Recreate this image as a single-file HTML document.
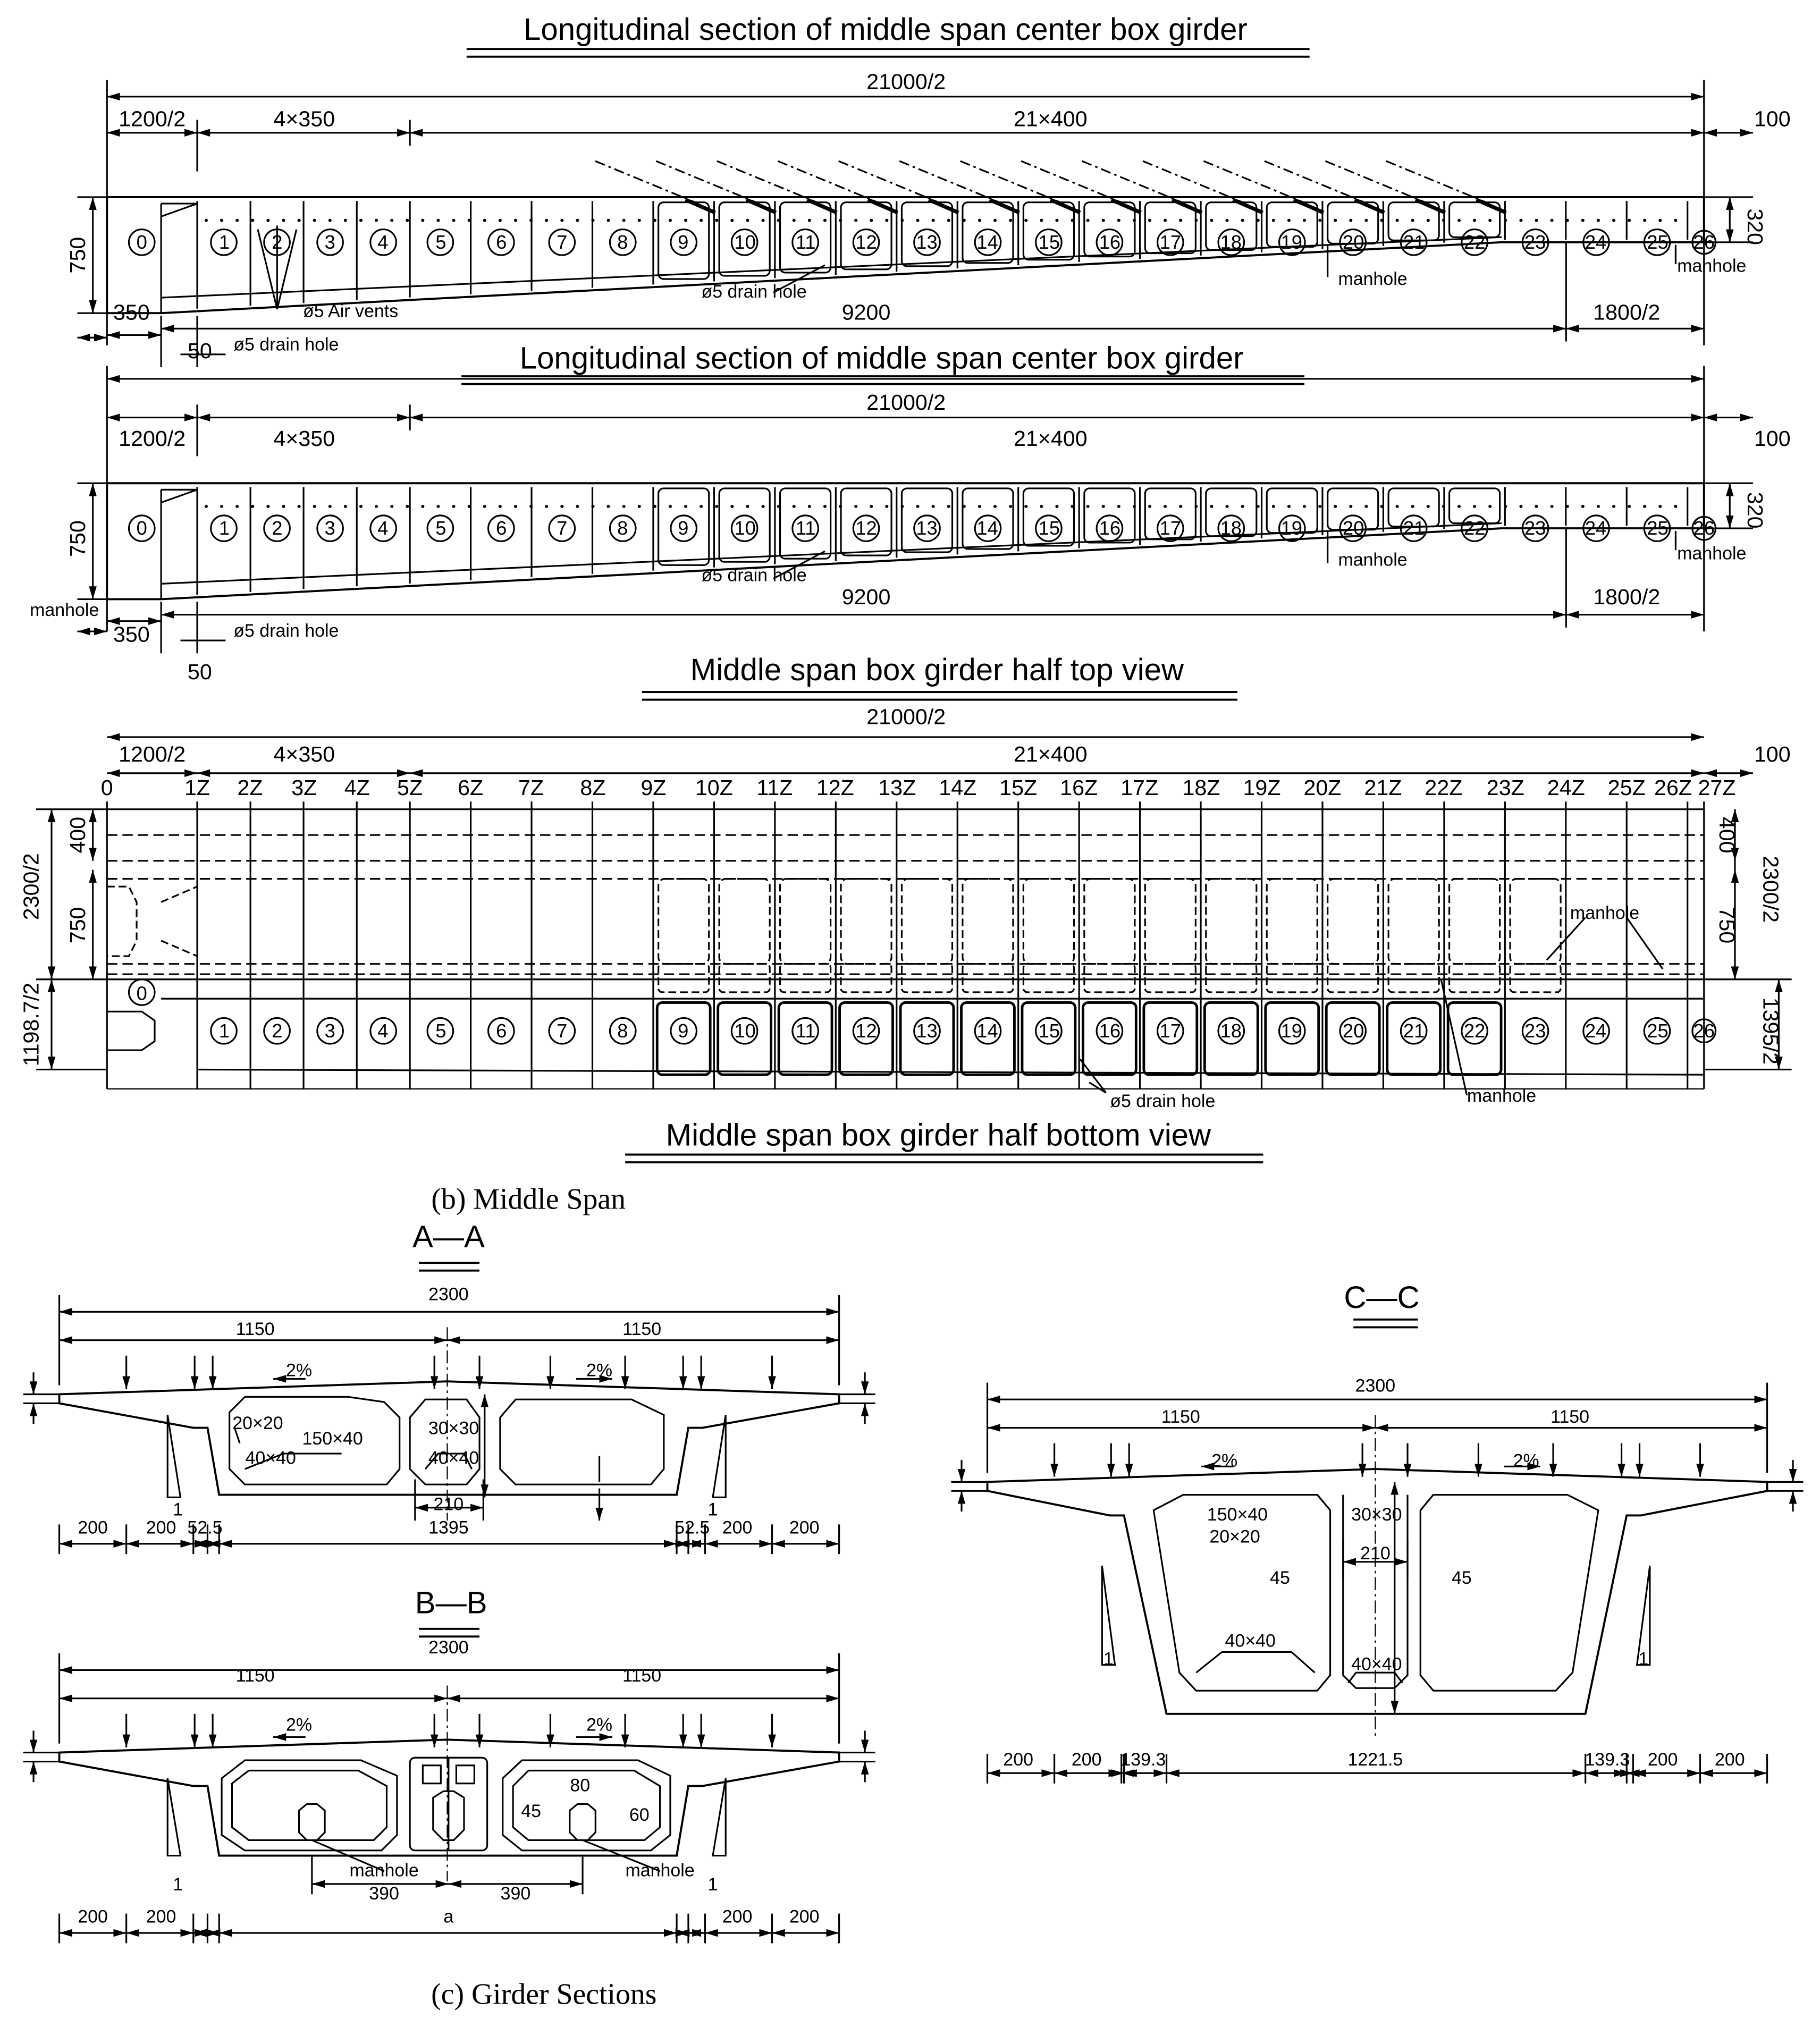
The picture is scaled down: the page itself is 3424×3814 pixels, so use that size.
<!DOCTYPE html>
<html><head><meta charset="utf-8">
<style>
html,body{margin:0;padding:0;background:#fff;}
svg{display:block;}
text{font-family:"Liberation Sans",sans-serif;fill:#000;}
.t{font-size:24px;}
.d{font-size:17px;}
.s{font-size:14px;}
.c{font-size:15px;}
.cap{font-family:"Liberation Serif",serif;font-size:23px;}
</style></head><body>
<svg id="S" width="3424" height="3814" viewBox="0 0 1412 1573" preserveAspectRatio="none" xmlns="http://www.w3.org/2000/svg">
<defs>
<marker id="a" viewBox="0 0 10 6" refX="10" refY="3" markerWidth="10" markerHeight="6" orient="auto-start-reverse" markerUnits="userSpaceOnUse"><path d="M0,0L10,3L0,6z"/></marker>
</defs>
<g id="G" stroke="#000" stroke-width="1.3" fill="none"></g>
<g text-anchor="middle">
<!-- Panel 1 -->
<text class="t" x="687" y="31">Longitudinal section of middle span center box girder</text>
<text class="d" x="703" y="69">21000/2</text>
<text class="d" x="118" y="98">1200/2</text>
<text class="d" x="236" y="98">4×350</text>
<text class="d" x="815" y="98">21×400</text>
<text class="d" x="1375" y="98">100</text>
<text class="d" x="66" y="198" transform="rotate(-90 66 198)">750</text>
<text class="d" x="1356" y="176" transform="rotate(90 1356 176)">320</text>
<text class="d" x="672" y="248">9200</text>
<text class="d" x="1262" y="248">1800/2</text>
<text class="d" x="102" y="248">350</text>
<text class="d" x="155" y="278">50</text>
<text class="s" x="222" y="272">ø5 drain hole</text>
<text class="s" x="272" y="246">ø5 Air vents</text>
<text class="s" x="585" y="231">ø5 drain hole</text>
<text class="s" x="1065" y="221">manhole</text>
<text class="s" x="1328" y="211">manhole</text>
<g class="c">
<text x="110" y="193">0</text><text x="174" y="193">1</text><text x="215" y="193">2</text><text x="256" y="193">3</text><text x="297" y="193">4</text><text x="342" y="193">5</text><text x="389" y="193">6</text><text x="436" y="193">7</text><text x="483" y="193">8</text><text x="530" y="193">9</text><text x="578" y="193">10</text><text x="625" y="193">11</text><text x="672" y="193">12</text><text x="719" y="193">13</text><text x="766" y="193">14</text><text x="814" y="193">15</text><text x="861" y="193">16</text><text x="908" y="193">17</text><text x="955" y="193">18</text><text x="1002" y="193">19</text><text x="1050" y="193">20</text><text x="1097" y="193">21</text><text x="1144" y="193">22</text><text x="1191" y="193">23</text><text x="1238" y="193">24</text><text x="1286" y="193">25</text><text x="1322" y="193">26</text>
</g>
<!-- Panel 2 -->
<text class="t" x="684" y="286">Longitudinal section of middle span center box girder</text>
<text class="d" x="703" y="318">21000/2</text>
<text class="d" x="118" y="346">1200/2</text>
<text class="d" x="236" y="346">4×350</text>
<text class="d" x="815" y="346">21×400</text>
<text class="d" x="1375" y="346">100</text>
<text class="d" x="66" y="418" transform="rotate(-90 66 418)">750</text>
<text class="d" x="1356" y="396" transform="rotate(90 1356 396)">320</text>
<text class="d" x="672" y="469">9200</text>
<text class="d" x="1262" y="469">1800/2</text>
<text class="d" x="102" y="498">350</text>
<text class="d" x="155" y="527">50</text>
<text class="s" x="50" y="478">manhole</text>
<text class="s" x="222" y="494">ø5 drain hole</text>
<text class="s" x="585" y="451">ø5 drain hole</text>
<text class="s" x="1065" y="439">manhole</text>
<text class="s" x="1328" y="434">manhole</text>
<g class="c">
<text x="110" y="415">0</text><text x="174" y="415">1</text><text x="215" y="415">2</text><text x="256" y="415">3</text><text x="297" y="415">4</text><text x="342" y="415">5</text><text x="389" y="415">6</text><text x="436" y="415">7</text><text x="483" y="415">8</text><text x="530" y="415">9</text><text x="578" y="415">10</text><text x="625" y="415">11</text><text x="672" y="415">12</text><text x="719" y="415">13</text><text x="766" y="415">14</text><text x="814" y="415">15</text><text x="861" y="415">16</text><text x="908" y="415">17</text><text x="955" y="415">18</text><text x="1002" y="415">19</text><text x="1050" y="415">20</text><text x="1097" y="415">21</text><text x="1144" y="415">22</text><text x="1191" y="415">23</text><text x="1238" y="415">24</text><text x="1286" y="415">25</text><text x="1322" y="415">26</text>
</g>
<!-- Panel 3 -->
<text class="t" x="727" y="528">Middle span box girder half top view</text>
<text class="d" x="703" y="562">21000/2</text>
<text class="d" x="118" y="591">1200/2</text>
<text class="d" x="236" y="591">4×350</text>
<text class="d" x="815" y="591">21×400</text>
<text class="d" x="1375" y="591">100</text>
<g class="d">
<text x="83" y="617">0</text><text x="153" y="617">1Z</text><text x="194" y="617">2Z</text><text x="236" y="617">3Z</text><text x="277" y="617">4Z</text><text x="318" y="617">5Z</text><text x="365" y="617">6Z</text><text x="412" y="617">7Z</text><text x="460" y="617">8Z</text><text x="507" y="617">9Z</text><text x="554" y="617">10Z</text><text x="601" y="617">11Z</text><text x="648" y="617">12Z</text><text x="696" y="617">13Z</text><text x="743" y="617">14Z</text><text x="790" y="617">15Z</text><text x="837" y="617">16Z</text><text x="884" y="617">17Z</text><text x="932" y="617">18Z</text><text x="979" y="617">19Z</text><text x="1026" y="617">20Z</text><text x="1073" y="617">21Z</text><text x="1120" y="617">22Z</text><text x="1168" y="617">23Z</text><text x="1215" y="617">24Z</text><text x="1262" y="617">25Z</text><text x="1298" y="617">26Z</text><text x="1332" y="617">27Z</text>
</g>
<text class="d" x="66" y="648" transform="rotate(-90 66 648)">400</text>
<text class="d" x="66" y="718" transform="rotate(-90 66 718)">750</text>
<text class="d" x="30" y="688" transform="rotate(-90 30 688)">2300/2</text>
<text class="d" x="30" y="795" transform="rotate(-90 30 795)">1198.7/2</text>
<text class="d" x="1334" y="648" transform="rotate(90 1334 648)">400</text>
<text class="d" x="1334" y="718" transform="rotate(90 1334 718)">750</text>
<text class="d" x="1368" y="690" transform="rotate(90 1368 690)">2300/2</text>
<text class="d" x="1368" y="800" transform="rotate(90 1368 800)">1395/2</text>
<text class="s" x="1245" y="713">manhole</text>
<text class="s" x="902" y="859">ø5 drain hole</text>
<text class="s" x="1165" y="855">manhole</text>
<g class="c">
<text x="110" y="776">0</text><text x="174" y="805">1</text><text x="215" y="805">2</text><text x="256" y="805">3</text><text x="297" y="805">4</text><text x="342" y="805">5</text><text x="389" y="805">6</text><text x="436" y="805">7</text><text x="483" y="805">8</text><text x="530" y="805">9</text><text x="578" y="805">10</text><text x="625" y="805">11</text><text x="672" y="805">12</text><text x="719" y="805">13</text><text x="766" y="805">14</text><text x="814" y="805">15</text><text x="861" y="805">16</text><text x="908" y="805">17</text><text x="955" y="805">18</text><text x="1002" y="805">19</text><text x="1050" y="805">20</text><text x="1097" y="805">21</text><text x="1144" y="805">22</text><text x="1191" y="805">23</text><text x="1238" y="805">24</text><text x="1286" y="805">25</text><text x="1322" y="805">26</text>
</g>
<text class="t" x="728" y="889">Middle span box girder half bottom view</text>
<text class="cap" x="410" y="938">(b) Middle Span</text>
<text class="cap" x="422" y="1555">(c) Girder Sections</text>
<!-- Sections -->
<text class="t" x="348" y="968">A—A</text>
<text class="t" x="350" y="1252">B—B</text>
<text class="t" x="1072" y="1015">C—C</text>
<g class="s">
<text x="348" y="1009">2300</text><text x="198" y="1036">1150</text><text x="498" y="1036">1150</text>
<text x="232" y="1068">2%</text><text x="465" y="1068">2%</text>
<text x="200" y="1109">20×20</text><text x="258" y="1121">150×40</text><text x="210" y="1136">40×40</text>
<text x="352" y="1113">30×30</text><text x="352" y="1136">40×40</text><text x="348" y="1172">210</text>
<text x="72" y="1190">200</text><text x="125" y="1190">200</text><text x="159" y="1190">52.5</text><text x="348" y="1190">1395</text><text x="537" y="1190">52.5</text><text x="572" y="1190">200</text><text x="624" y="1190">200</text>
<text x="348" y="1283">2300</text><text x="198" y="1305">1150</text><text x="498" y="1305">1150</text>
<text x="232" y="1343">2%</text><text x="465" y="1343">2%</text>
<text x="298" y="1456">manhole</text><text x="512" y="1456">manhole</text>
<text x="298" y="1474">390</text><text x="400" y="1474">390</text><text x="450" y="1390">80</text><text x="412" y="1410">45</text><text x="496" y="1413">60</text>
<text x="348" y="1492">a</text>
<text x="72" y="1492">200</text><text x="125" y="1492">200</text><text x="572" y="1492">200</text><text x="624" y="1492">200</text>
<text x="1067" y="1080">2300</text><text x="916" y="1104">1150</text><text x="1218" y="1104">1150</text>
<text x="950" y="1138">2%</text><text x="1184" y="1138">2%</text>
<text x="960" y="1180">150×40</text><text x="958" y="1197">20×20</text>
<text x="993" y="1229">45</text><text x="1134" y="1229">45</text><text x="1067" y="1210">210</text>
<text x="970" y="1278">40×40</text><text x="1068" y="1296">40×40</text><text x="1068" y="1180">30×30</text>
<text x="790" y="1370">200</text><text x="843" y="1370">200</text><text x="887" y="1370">139.3</text><text x="1067" y="1370">1221.5</text><text x="1247" y="1370">139.3</text><text x="1290" y="1370">200</text><text x="1342" y="1370">200</text>
<text x="860" y="1292">1</text><text x="1275" y="1292">1</text><text x="138" y="1176">1</text><text x="553" y="1176">1</text><text x="138" y="1467">1</text><text x="553" y="1467">1</text>
</g>
</g>
</svg>
<script>
(function(){
var G=document.getElementById('G'),NS='http://www.w3.org/2000/svg';
function el(t,a){var e=document.createElementNS(NS,t);for(var k in a)e.setAttribute(k,a[k]);G.appendChild(e);return e;}
function L(x1,y1,x2,y2,o){var a={x1:x1,y1:y1,x2:x2,y2:y2};if(o)for(var k in o)a[k]=o[k];return el('line',a);}
function P(d,o){var a={d:d};if(o)for(var k in o)a[k]=o[k];return el('path',a);}
function C(x,y,r){return el('circle',{cx:x,cy:y,r:r});}
function D(x1,x2,y){L(x1,y,x2,y,{'marker-start':'url(#a)','marker-end':'url(#a)'});}
function DV(x,y1,y2){L(x,y1,x,y2,{'marker-start':'url(#a)','marker-end':'url(#a)'});}
var Z=[83,153,194.3,235.5,276.8,318];for(var i=1;i<=21;i++)Z.push(318+47.2*i);Z[26]=1309.2;Z.push(1322);
var CC=[110];for(var k=1;k<=4;k++)CC.push(153+41.25*(k-0.5));for(k=5;k<=25;k++)CC.push(318+47.2*(k-4.5));CC.push(1322);
function U(x1,x2,y){L(x1,y,x2,y,{'stroke-width':1.6});L(x1,y+6,x2,y+6,{'stroke-width':1.6});}
U(362,1016,38);U(358,1012,292);U(498,960,537);U(485,980,896);U(325,372,980);U(325,372,1264);U(1050,1100,1024);
function longi(oy,p2){
 var top=153+oy;
 D(83,1322,75+oy-(p2?3:0));
 L(83,62+oy,83,268+oy);L(1322,62+oy,1322,268+oy);
 var y2=103+oy-(p2?1:0);D(83,153,y2);D(153,318,y2);D(318,1322,y2);D(1322,1360,y2);
 L(153,y2-10,153,y2+30);L(318,y2-10,318,y2+10);
 function bot(x){return x<1165?243+oy-(x-125)*55/1040:188+oy;}
 P('M83,'+top+'L1322,'+top+'L1322,'+(188+oy)+'L1165,'+(188+oy)+'L125,'+(243+oy)+'L83,'+(243+oy)+'Z',{'stroke-width':1.6});
 L(125,top+5,153,top+5);L(125,top+5,125,243+oy);
 P('M153,'+(top+5)+'L125,'+(top+15));P('M125,'+(bot(125)-12)+'L1165,'+(bot(1165)-4));
 for(var i=1;i<=26;i++){var x=Z[i];L(x,top+3,x,bot(x)-2);}
 for(i=9;i<=22;i++){var x1=Z[i]+4,x2=Z[i+1]-4;el('rect',{x:x1,y:top+4,width:x2-x1,height:bot(x2)-top-8,rx:4});}
 for(i=0;i<27;i++)C(CC[i],188+oy,i==26?9:10);
 for(var x=160;x<1310;x+=12)C(x,top+18,0.6);
 DV(72,top,243+oy);L(60,top,83,top);L(60,243+oy,83,243+oy);
 DV(1342,top,188+oy);L(1322,188+oy,1360,188+oy);L(1322,top,1360,top);
 D(125,1215,255+oy);D(1215,1322,255+oy);L(1215,188+oy,1215,265+oy);
 D(83,125,260+oy);L(125,245+oy,125,285+oy);L(153,245+oy,153,285+oy);D(60,83,p2?268+oy:262+oy);
 L(140,275+oy,175,275+oy);
 L(640,bot(640)-10,600,227+oy);L(1030,190+oy,1030,215+oy);L(1300,190+oy,1300,205+oy);
}
longi(0,false);longi(222,true);
for(var i=9;i<=22;i++){var x=Z[i]+10;L(x-55,125,x+25,158,{'stroke-dasharray':'8 3 2 3'});L(x+15,155,x+38,165,{'stroke-width':3});}
L(215,175,215,240);L(200,178,215,240);L(230,178,215,240);
// panel 3
D(83,1322,572);D(83,153,600);D(153,318,600);D(318,1322,600);D(1322,1360,600);
for(i=0;i<=27;i++)L(Z[i],622,Z[i],845);
L(83,628,1322,628);L(83,760,1322,760);L(83,845,1322,845,{'stroke-width':1});
[648,668,682,748,756].forEach(function(y){L(83,y,1322,y,{'stroke-dasharray':'8 4'});});
for(i=9;i<=23;i++){el('rect',{x:Z[i]+4,y:682,width:Z[i+1]-Z[i]-8,height:66,rx:5,'stroke-dasharray':'6 3'});el('rect',{x:Z[i]+4,y:748,width:Z[i+1]-Z[i]-8,height:22,rx:3,'stroke-dasharray':'6 3'});}
P('M83,688L100,688L106,700L106,730L100,742L83,742',{'stroke-dasharray':'6 3'});
P('M125,700L153,688M125,730L153,742',{'stroke-dasharray':'6 3'});
for(i=9;i<=22;i++)el('rect',{x:Z[i]+3,y:778,width:Z[i+1]-Z[i]-6,height:56,rx:4,'stroke-width':2});
for(i=1;i<=26;i++)C(CC[i],800,i==26?9:10);C(110,770,10);
P('M83,785L110,785L120,792L120,808L110,815L83,815');L(125,775,1322,775);L(153,830,1322,834);
DV(40,628,760);DV(40,760,830);DV(72,628,668);DV(72,675,760);
DV(1346,628,760);DV(1380,760,830);DV(1346,628,668);DV(1346,675,760);
L(28,628,83,628);L(28,760,83,760);L(28,830,83,830);L(1322,830,1390,830);L(1322,760,1390,760);
L(1200,745,1230,712);L(1290,752,1262,712);L(845,840,858,848);L(838,822,858,848);L(1118,760,1138,850);
// sections
function sec(cx,ty,by,wl,wr,wlb,wrb,yb,tri){
 var L0=cx-301,R0=cx+304;
 P('M'+L0+','+(ty+2)+'L'+cx+','+(ty-8)+'L'+R0+','+(ty+2)+'L'+R0+','+(ty+9)+'L'+(wr+15)+','+(ty+28)+'L'+(wr+4)+','+(ty+28)+'L'+wrb+','+by+'L'+wlb+','+by+'L'+(wl-4)+','+(ty+28)+'L'+(wl-15)+','+(ty+28)+'L'+L0+','+(ty+9)+'Z',{'stroke-width':1.6});
 D(L0,R0,ty-62);D(L0,cx,ty-40);D(cx,R0,ty-40);
 L(L0,ty-75,L0,ty-5);L(R0,ty-75,R0,ty-5);L(cx,ty-50,cx,by+20,{'stroke-dasharray':'10 3 2 3','stroke-width':0.9});
 var xs=[L0,L0+52,L0+104,wl-4,wlb,wrb,wr+4,R0-104,R0-52,R0];
 for(var i=0;i<xs.length;i++)L(xs[i],yb-15,xs[i],yb+8);
 for(i=0;i<xs.length-1;i++)D(xs[i],xs[i+1],yb);
 L(L0-28,ty+2,L0,ty+2);L(L0-28,ty+9,L0,ty+9);L(R0,ty+2,R0+28,ty+2);L(R0,ty+9,R0+28,ty+9);
 L(L0-20,ty-15,L0-20,ty+2,{'marker-end':'url(#a)'});L(L0-20,ty+25,L0-20,ty+9,{'marker-end':'url(#a)'});
 L(R0+20,ty-15,R0+20,ty+2,{'marker-end':'url(#a)'});L(R0+20,ty+25,R0+20,ty+9,{'marker-end':'url(#a)'});
 [L0+52,wl-14,wl,cx-10,cx+25,cx+80,cx+138,wr,wr+14,R0-52].forEach(function(x){L(x,ty-28,x,ty-2,{'marker-end':'url(#a)'});});
 P('M'+tri[0]+','+tri[1]+'L'+(tri[0]+10)+','+tri[2]+'L'+tri[0]+','+tri[2]+'Z');
 P('M'+tri[3]+','+tri[1]+'L'+(tri[3]-10)+','+tri[2]+'L'+tri[3]+','+tri[2]+'Z');
 L(cx-135,ty-10,cx-110,ty-10,{'marker-start':'url(#a)'});L(cx+100,ty-10,cx+128,ty-10,{'marker-end':'url(#a)'});
}
// A-A
sec(347,1080,1160,165,530,170,525,1198,[130,1098,1162,563]);
P('M178,1096L190,1084L270,1084L298,1088L310,1100L310,1140L300,1152L190,1152L178,1140Z');
P('M318,1100L330,1086L362,1086L372,1100L372,1140L362,1152L330,1152L318,1140Z');
P('M388,1100L400,1086L490,1086L515,1098L515,1140L505,1152L400,1152L388,1140Z');
P('M182,1108L186,1120M190,1140L220,1128L265,1128M330,1140L340,1128L360,1128L366,1140');
L(322,1148,322,1180);L(375,1148,375,1180);D(322,375,1170);DV(376,1082,1162);
L(465,1155,465,1180,{'marker-end':'url(#a)'});L(465,1130,465,1150);
// B-B
sec(347,1358,1440,165,530,170,525,1500,[130,1380,1440,563]);
P('M172,1380L190,1366L280,1366L308,1378L308,1424L296,1436L190,1436L172,1424Z');
P('M180,1384L193,1374L278,1374L300,1386L300,1418L290,1428L193,1428L180,1418Z');
P('M390,1380L405,1366L495,1366L520,1378L520,1424L505,1436L405,1436L390,1424Z');
P('M398,1386L410,1374L492,1374L512,1386L512,1418L500,1428L410,1428L398,1418Z');
el('rect',{x:318,y:1364,width:60,height:72,rx:4});L(348,1364,348,1436);
el('rect',{x:328,y:1370,width:14,height:14});el('rect',{x:354,y:1370,width:14,height:14});
P('M336,1395L344,1390L352,1390L360,1395L360,1420L352,1428L344,1428L336,1420Z');
P('M232,1405L238,1400L246,1400L252,1405L252,1422L246,1428L238,1428L232,1422Z');
P('M442,1405L448,1400L456,1400L462,1405L462,1422L456,1428L448,1428L442,1422Z');
D(242,348,1462);D(348,452,1462);L(242,1440,242,1470);L(452,1440,452,1470);
L(242,1428,298,1452);L(452,1428,512,1452);
// C-C
sec(1067,1148,1330,876,1258,905,1230,1376,[855,1215,1292,1280]);
P('M895,1172L918,1160L1022,1160L1032,1172L1032,1300L1022,1312L928,1312L915,1298Z');
P('M1102,1172L1112,1160L1216,1160L1240,1172L1220,1298L1207,1312L1112,1312L1102,1300Z');
P('M1042,1160L1042,1300L1052,1310L1082,1310L1092,1300L1092,1160');
P('M928,1298L948,1282L1002,1282L1020,1298M1046,1306L1052,1298L1082,1298L1088,1306');
DV(1082,1150,1330);D(1042,1092,1212);L(1042,1195,1042,1225);L(1092,1195,1092,1225);
})();
</script>
</body></html>
